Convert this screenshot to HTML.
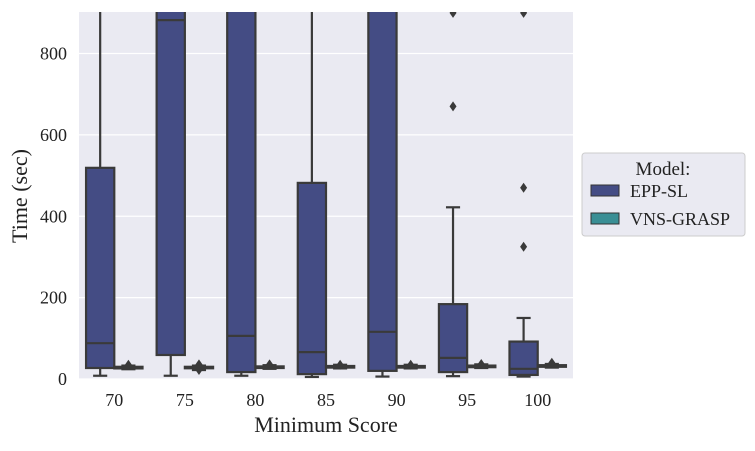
<!DOCTYPE html>
<html><head><meta charset="utf-8"><style>
body{margin:0;background:#fff;}
svg text{font-family:"Liberation Serif",serif;fill:#222;}
</style></head><body>
<svg width="755" height="446" xmlns="http://www.w3.org/2000/svg">
<rect x="79" y="12" width="494" height="367" fill="#eaeaf2"/>
<g id="grid"></g><g id="marks"></g><g id="axes"></g>
<text x="326" y="432" font-size="22" text-anchor="middle">Minimum Score</text>
<text transform="translate(27,196) rotate(-90)" font-size="22" text-anchor="middle">Time (sec)</text>
<g>
<rect x="582" y="153" width="163" height="83" rx="3" fill="#eaeaf2" stroke="#ccc"/>
<text x="663" y="175" font-size="19" text-anchor="middle">Model:</text>
<rect x="591" y="185" width="28" height="11" fill="#444c84" stroke="#333"/>
<text x="630" y="197" font-size="18">EPP-SL</text>
<rect x="591" y="213" width="28" height="11" fill="#3a8f95" stroke="#333"/>
<text x="630" y="225" font-size="18">VNS-GRASP</text>
</g>
</svg>
<script>
const categories=["70","75","80","85","90","95","100"];
const eppLow=[8,8,8,5,6,7,6];
const eppQ1=[27,59,17,12,20,17,10];
const eppMed=[88,882,106,66,116,52,25];
const eppQ3=[519,1500,1500,482,1500,184,92];
const eppHigh=[2000,2000,2000,2000,2000,422,150];
const eppFliers=[[],[],[],[],[],[670,900],[325,470,900]];
const vnsLow=[24,22,25,26,26,27,28];
const vnsQ1=[26,27,27,28,28,29,30];
const vnsMed=[28,28,29,30,30,31,32];
const vnsQ3=[30,30,31,32,32,33,34];
const vnsHigh=[33,33,34,35,35,36,37];
const vnsFliers=[[35],[36,22],[36],[35],[35],[37],[40]];
const yTicks=[0,200,400,600,800];
const NS="http://www.w3.org/2000/svg";
const L=79,R=573,T=12,B=379,yMax=902;
const y=v=>B-(Math.min(v,yMax+10))*(B-T)/yMax;
const bw=(R-L)/categories.length;
const xc=i=>L+bw*(i+0.5);
function mk(p,t,a){const e=document.createElementNS(NS,t);for(const k in a)e.setAttribute(k,a[k]);p.appendChild(e);return e;}
const grid=document.getElementById('grid'),marks=document.getElementById('marks'),axes=document.getElementById('axes');
yTicks.forEach(v=>{
 const g=mk(grid,'line',{x1:L,x2:R,y1:y(v),y2:y(v),stroke:'#fff','stroke-width':1.2});
 
 
 const t=mk(axes,'text',{x:67,y:y(v)+6,'font-size':18,'text-anchor':'end'});t.textContent=v;
 
 
});
categories.forEach((c,i)=>{
 const t=mk(axes,'text',{x:xc(i),y:406,'font-size':18,'text-anchor':'middle'});t.textContent=c;
 
 
});
const clip=mk(marks,'clipPath',{id:'cp'});mk(clip,'rect',{x:L,y:T,width:R-L,height:B-T+6});
const mg=mk(marks,'g',{'clip-path':'url(#cp)'});
function box(i,off,lo,q1,md,q3,hi,fl,col,name){
 const w=bw*0.4,cx=xc(i)+off,x0=cx-w/2;
 const g=mk(mg,'g',{});
 
 
 const s={stroke:'#3a3a3a','stroke-width':2.2};
 mk(g,'line',Object.assign({x1:cx,x2:cx,y1:y(lo),y2:y(q1)},s));
 mk(g,'line',Object.assign({x1:cx,x2:cx,y1:y(q3),y2:y(hi)},s));
 mk(g,'line',Object.assign({x1:cx-w/4,x2:cx+w/4,y1:y(lo),y2:y(lo)},s));
 mk(g,'line',Object.assign({x1:cx-w/4,x2:cx+w/4,y1:y(hi),y2:y(hi)},s));
 mk(g,'rect',Object.assign({x:x0,y:y(q3),width:w,height:Math.max(y(q1)-y(q3),1.5),fill:col},s));
 mk(g,'line',Object.assign({x1:x0,x2:x0+w,y1:y(md),y2:y(md)},s));
 fl.forEach(f=>{const yy=y(f);mk(g,'path',{d:`M${cx} ${yy-5}L${cx+3.5} ${yy}L${cx} ${yy+5}L${cx-3.5} ${yy}Z`,fill:'#3a3a3a'});});
}
categories.forEach((c,i)=>{
 box(i,-bw*0.2,eppLow[i],eppQ1[i],eppMed[i],eppQ3[i],eppHigh[i],eppFliers[i],'#444c84','epp-sl');
 box(i,bw*0.2,vnsLow[i],vnsQ1[i],vnsMed[i],vnsQ3[i],vnsHigh[i],vnsFliers[i],'#3a8f95','vns-grasp');
});
</script>
</body></html>
